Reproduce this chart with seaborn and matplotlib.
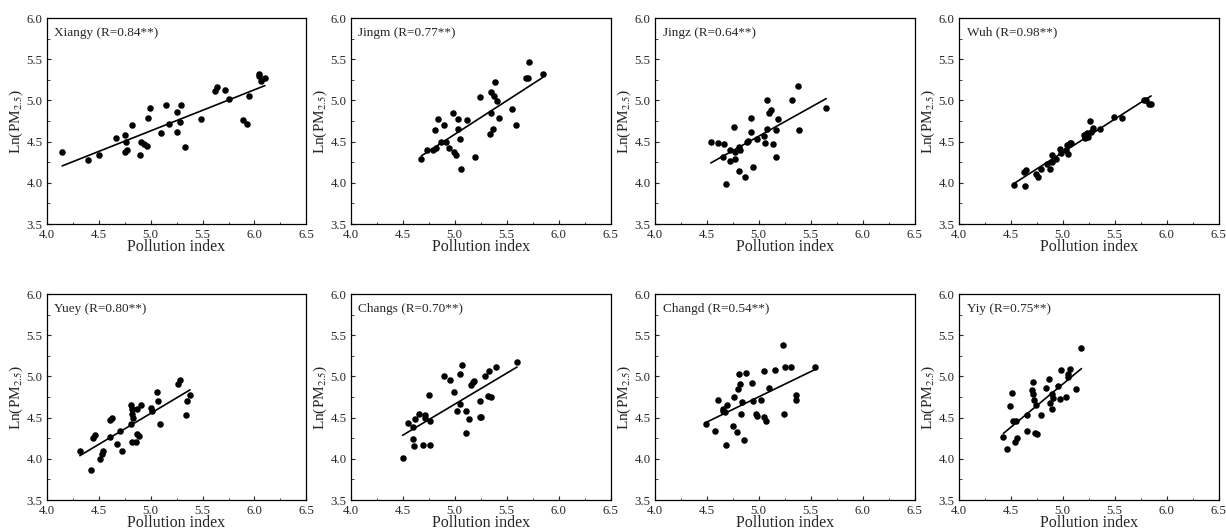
import numpy as np
import pandas as pd
import matplotlib
matplotlib.use("Agg")
import matplotlib.pyplot as plt
from matplotlib.ticker import MultipleLocator
import seaborn as sns

cities = ["Xiangy", "Jingm", "Jingz", "Wuh", "Yuey", "Changs", "Changd", "Yiy"]
r_values = ["0.84", "0.77", "0.64", "0.98", "0.80", "0.70", "0.54", "0.75"]

xiangy_x = [4.15, 4.40, 4.50, 4.67, 4.75, 4.76, 4.75, 4.77, 4.82, 4.90, 4.91, 4.94, 4.97, 4.98, 4.99,
            5.10, 5.15, 5.18, 5.25, 5.25, 5.28, 5.29, 5.33, 5.49, 5.62, 5.64, 5.72, 5.75, 5.89, 5.93,
            5.95, 6.04, 6.04, 6.06, 6.10]
xiangy_y = [4.38, 4.28, 4.34, 4.54, 4.58, 4.49, 4.37, 4.40, 4.70, 4.34, 4.49, 4.47, 4.45, 4.79, 4.91,
            4.61, 4.94, 4.71, 4.86, 4.62, 4.74, 4.94, 4.43, 4.78, 5.11, 5.16, 5.13, 5.02, 4.76, 4.71,
            5.05, 5.32, 5.30, 5.24, 5.27]

jingm_x = [4.68, 4.73, 4.79, 4.82, 4.81, 4.84, 4.87, 4.90, 4.92, 4.95, 4.98, 4.99, 5.01, 5.03, 5.03,
           5.05, 5.06, 5.12, 5.20, 5.24, 5.34, 5.35, 5.35, 5.37, 5.38, 5.39, 5.41, 5.43, 5.55, 5.59,
           5.69, 5.71, 5.72, 5.85]
jingm_y = [4.29, 4.40, 4.40, 4.42, 4.64, 4.77, 4.50, 4.70, 4.49, 4.42, 4.85, 4.37, 4.34, 4.78, 4.65,
           4.53, 4.17, 4.76, 4.32, 5.04, 4.59, 4.85, 5.10, 4.65, 5.05, 5.22, 4.99, 4.79, 4.90, 4.70,
           5.27, 5.27, 5.47, 5.32]

jingz_x = [4.54, 4.61, 4.67, 4.66, 4.69, 4.72, 4.72, 4.76, 4.77, 4.77, 4.81, 4.81, 4.82, 4.87, 4.89,
           4.90, 4.93, 4.93, 4.95, 4.98, 5.05, 5.06, 5.08, 5.08, 5.10, 5.12, 5.14, 5.17, 5.17, 5.19,
           5.32, 5.38, 5.39, 5.65]
jingz_y = [4.49, 4.48, 4.47, 4.31, 3.99, 4.40, 4.27, 4.68, 4.38, 4.29, 4.15, 4.44, 4.40, 4.07, 4.50,
           4.51, 4.79, 4.62, 4.19, 4.53, 4.57, 4.48, 4.65, 5.00, 4.85, 4.89, 4.47, 4.32, 4.64, 4.77,
           5.00, 5.17, 4.64, 4.91]

wuh_x = [4.53, 4.63, 4.65, 4.64, 4.74, 4.76, 4.79, 4.85, 4.88, 4.90, 4.90, 4.94, 4.97, 4.98, 5.03,
         5.04, 5.05, 5.07, 5.08, 5.20, 5.21, 5.23, 5.24, 5.26, 5.27, 5.29, 5.36, 5.49, 5.57, 5.78,
         5.80, 5.83, 5.85]
wuh_y = [3.98, 4.13, 4.16, 3.96, 4.11, 4.07, 4.17, 4.23, 4.17, 4.34, 4.25, 4.29, 4.41, 4.36, 4.40,
         4.46, 4.35, 4.48, 4.48, 4.58, 4.55, 4.60, 4.56, 4.75, 4.62, 4.66, 4.65, 4.80, 4.79, 5.01,
         5.00, 4.96, 4.96]

yuey_x = [4.32, 4.43, 4.45, 4.47, 4.51, 4.53, 4.54, 4.61, 4.63, 4.61, 4.68, 4.71, 4.73, 4.81, 4.81,
          4.82, 4.82, 4.83, 4.82, 4.86, 4.87, 4.87, 4.89, 4.91, 5.00, 5.01, 5.06, 5.07, 5.09, 5.26,
          5.28, 5.34, 5.35, 5.38]
yuey_y = [4.10, 3.87, 4.25, 4.29, 4.00, 4.06, 4.10, 4.47, 4.50, 4.27, 4.18, 4.34, 4.10, 4.42, 4.66,
          4.60, 4.55, 4.50, 4.21, 4.20, 4.30, 4.60, 4.28, 4.66, 4.62, 4.58, 4.81, 4.70, 4.42, 4.91,
          4.96, 4.53, 4.70, 4.77]

changs_x = [4.50, 4.55, 4.60, 4.60, 4.61, 4.62, 4.66, 4.70, 4.72, 4.72, 4.76, 4.75, 4.76, 4.90, 4.96,
            4.99, 5.02, 5.05, 5.05, 5.07, 5.11, 5.11, 5.14, 5.16, 5.18, 5.19, 5.24, 5.24, 5.25, 5.29,
            5.32, 5.35, 5.33, 5.40, 5.60]
changs_y = [4.01, 4.43, 4.39, 4.24, 4.16, 4.48, 4.55, 4.17, 4.50, 4.53, 4.17, 4.78, 4.46, 5.00, 4.96,
            4.81, 4.58, 5.03, 4.67, 5.14, 4.32, 4.58, 4.48, 4.90, 4.93, 4.95, 4.70, 4.51, 4.51, 5.01,
            4.76, 4.75, 5.07, 5.12, 5.17]

changd_x = [4.49, 4.58, 4.61, 4.66, 4.66, 4.68, 4.70, 4.69, 4.75, 4.76, 4.79, 4.80, 4.81, 4.82, 4.83,
            4.84, 4.86, 4.88, 4.94, 4.95, 4.97, 4.98, 5.02, 5.05, 5.05, 5.07, 5.10, 5.16, 5.23, 5.24,
            5.25, 5.31, 5.36, 5.36, 5.54]
changd_y = [4.42, 4.34, 4.71, 4.61, 4.58, 4.57, 4.66, 4.17, 4.40, 4.75, 4.33, 4.85, 5.03, 4.91, 4.55,
            4.69, 4.23, 5.04, 4.92, 4.70, 4.54, 4.52, 4.72, 5.07, 4.51, 4.46, 4.86, 5.08, 5.38, 4.54,
            5.12, 5.12, 4.77, 4.72, 5.12]

yiy_x = [4.43, 4.46, 4.49, 4.51, 4.52, 4.55, 4.54, 4.56, 4.66, 4.66, 4.70, 4.71, 4.71, 4.72, 4.74,
         4.73, 4.75, 4.79, 4.84, 4.87, 4.88, 4.90, 4.90, 4.91, 4.95, 4.97, 4.98, 5.03, 5.05, 5.05,
         5.07, 5.13, 5.18]
yiy_y = [4.27, 4.12, 4.64, 4.80, 4.46, 4.46, 4.21, 4.25, 4.53, 4.34, 4.83, 4.93, 4.79, 4.72, 4.65,
         4.32, 4.30, 4.53, 4.86, 4.97, 4.68, 4.61, 4.79, 4.74, 4.88, 4.73, 5.08, 4.75, 5.03, 4.99,
         5.09, 4.85, 5.34]

xs = [xiangy_x, jingm_x, jingz_x, wuh_x, yuey_x, changs_x, changd_x, yiy_x]
ys = [xiangy_y, jingm_y, jingz_y, wuh_y, yuey_y, changs_y, changd_y, yiy_y]

sns.set_style("ticks")
plt.rcParams["font.family"] = ["Liberation Serif", "DejaVu Serif"]
plt.rcParams["mathtext.fontset"] = "stix"

fig, axes = plt.subplots(2, 4, figsize=(12.26, 5.32), dpi=100)
fig.subplots_adjust(left=0.038, right=0.994, top=0.966, bottom=0.060, wspace=0.17, hspace=0.34)

for i, ax in enumerate(axes.flat):
    df = pd.DataFrame({"x": xs[i], "y": ys[i]})
    sns.regplot(data=df, x="x", y="y", ax=ax, ci=None, color="black",
                scatter_kws={"s": 22, "linewidths": 0, "alpha": 1},
                line_kws={"lw": 1.2})
    ax.set_xlim(4.0, 6.5)
    ax.set_ylim(3.5, 6.0)
    ax.xaxis.set_major_locator(MultipleLocator(0.5))
    ax.yaxis.set_major_locator(MultipleLocator(0.5))
    ax.xaxis.set_minor_locator(MultipleLocator(0.25))
    ax.yaxis.set_minor_locator(MultipleLocator(0.25))
    ax.tick_params(which="major", direction="in", length=3, width=0.8, labelsize=9.2)
    ax.tick_params(axis="x", which="major", pad=3.5)
    ax.tick_params(axis="y", which="major", pad=3)
    ax.tick_params(which="minor", direction="in", length=1.8, width=0.6)
    ax.set_xticklabels([f"{v:.1f}" for v in ax.get_xticks()])
    ax.set_yticklabels([f"{v:.1f}" for v in ax.get_yticks()])
    for s in ax.spines.values():
        s.set_visible(True)
        s.set_linewidth(0.9)
        s.set_color("black")
    ax.set_xlabel("Pollution index", fontsize=11.5, labelpad=-1.5)
    ax.set_ylabel("Ln(PM$_{2.5}$)", fontsize=11, labelpad=1)
    ax.text(0.03, 0.93, f"{cities[i]} (R={r_values[i]}**)", transform=ax.transAxes,
            fontsize=9.5, ha="left", va="center")

fig.savefig("out.png", dpi=100)
